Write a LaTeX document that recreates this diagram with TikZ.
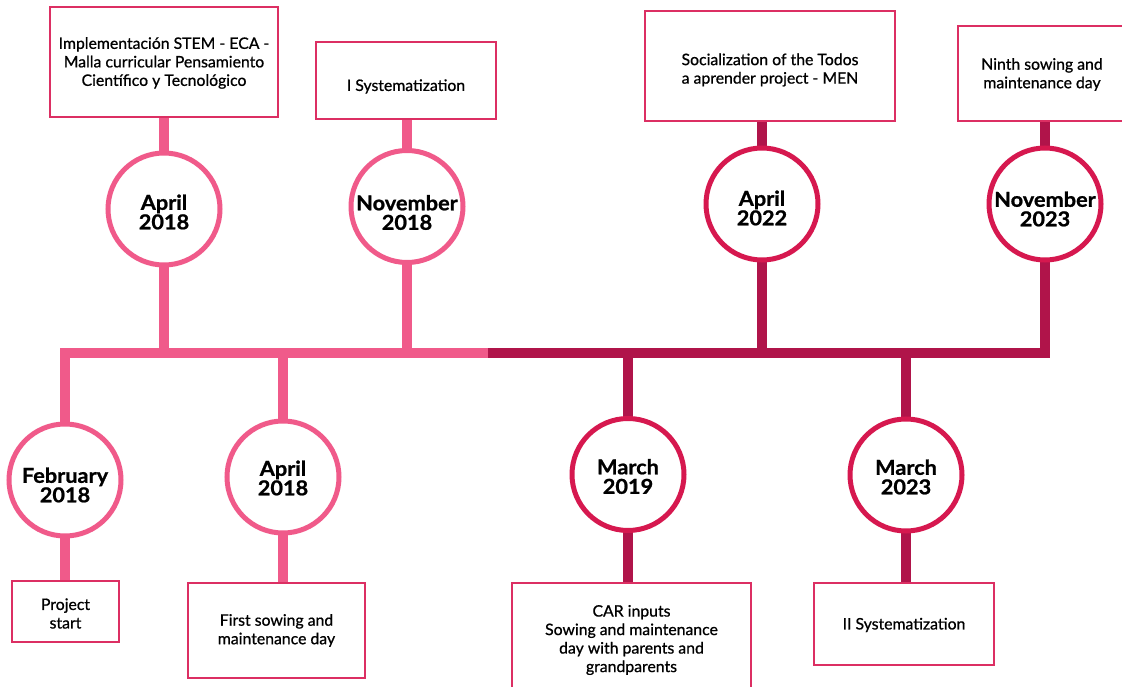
\documentclass[tikz,border=0pt]{standalone}
\usepackage{fontspec}
\setmainfont{Lato}
\newfontfamily\boxfont{Lato}[FakeBold=0.8]
\newfontfamily\datefont{Lato}[FakeBold=1.0,FakeStretch=1.06]
\usetikzlibrary{backgrounds}
\definecolor{pinkc}{HTML}{F05A8A}
\definecolor{darkc}{HTML}{B0144A}
\definecolor{ringc}{HTML}{D6184F}
\definecolor{boxc}{HTML}{DC2F63}
\begin{document}
\begin{tikzpicture}[x=1pt,y=-1pt,
  ev/.style={draw=boxc, line width=1.3pt, fill=white, inner sep=0pt},
  evt/.style={align=center, inner sep=0pt, font=\boxfont\fontsize{15.8}{18.5}\selectfont},
  dt/.style={circle, draw=#1, fill=white, line width=5pt, minimum size=112pt, inner sep=0pt},
  dtt/.style={align=center, inner sep=0pt, font=\datefont\fontsize{20.5}{19.5}\selectfont\bfseries},
  stem/.style={line width=10pt, draw=#1, line join=miter}]
\useasboundingbox (0,0) rectangle (1122,687);
% boxes
\node[ev, minimum width=228pt, minimum height=110pt] (b1) at (164,62) {};
\node[ev, minimum width=180pt, minimum height=77pt] (b2) at (406,80.5) {};
\node[ev, minimum width=250pt, minimum height=110pt] (b3) at (770,66) {};
\node[ev, minimum width=168pt, minimum height=95pt] (b4) at (1042,73.5) {};
\node[ev, minimum width=107pt, minimum height=61pt] (b5) at (65.5,611.5) {};
\node[ev, minimum width=177pt, minimum height=95pt] (b6) at (276.5,630.5) {};
\node[ev, minimum width=239pt, minimum height=112pt] (b7) at (631.5,639) {};
\node[ev, minimum width=180pt, minimum height=82pt] (b8) at (904,624) {};
\node[evt] (s1) at ([yshift=-1pt]b1.center) {Implementación STEM - ECA -\\Malla curricular Pensamiento\\Científico y Tecnológico};
\node[evt] (s2) at ([yshift=-6pt]b2.center) {I Systematization};
\node[evt] (s3) at ([yshift=-4pt]b3.center) {Socialization of the Todos\\a aprender project - MEN};
\node[evt] (s4) at ([yshift=-1pt]b4.center) {Ninth sowing and\\maintenance day};
\node[evt] (s5) at ([yshift=-2pt]b5.center) {Project\\start};
\node[evt] (s6) at ([yshift=0pt]b6.center) {First sowing and\\maintenance day};
\node[evt] (s7) at ([yshift=-1pt]b7.center) {CAR inputs\\Sowing and maintenance\\day with parents and\\grandparents};
\node[evt] (s8) at ([yshift=-1pt]b8.center) {II Systematization};
% circles
\node[dt=pinkc] (c1) at (164,209) {};
\node[dt=pinkc] (c2) at (407,206.5) {};
\node[dt=ringc] (c3) at (762,204) {};
\node[dt=ringc] (c4) at (1045,204) {};
\node[dt=pinkc] (c5) at (65,480) {};
\node[dt=pinkc] (c6) at (283,477) {};
\node[dt=ringc] (c7) at (628,474.5) {};
\node[dt=ringc] (c8) at (906,475) {};
\node[dtt] (t1) at ([yshift=-3pt]c1.center) {April\\2018};
\node[dtt] (t2) at ([yshift=-6pt]c2.center) {November\\2018};
\node[dtt] (t3) at ([yshift=-4pt]c3.center) {April\\2022};
\node[dtt] (t4) at ([yshift=-5pt]c4.center) {November\\2023};
\node[dtt] (t5) at ([yshift=-5pt]c5.center) {February\\2018};
\node[dtt] (t6) at ([yshift=-1pt]c6.center) {April\\2018};
\node[dtt] (t7) at ([yshift=-2pt]c7.center) {March\\2019};
\node[dtt] (t8) at ([yshift=-2pt]c8.center) {March\\2023};
\coordinate (M) at (488,353);
\begin{scope}[on background layer]
  \draw[stem=pinkc] (c5.center) |- (M);
  \draw[stem=darkc] (M) -| (c4.center);
  \draw[stem=pinkc] (c1 |- b1.south) -- (c1 |- M);
  \draw[stem=pinkc] (c2 |- b2.south) -- (c2 |- M);
  \draw[stem=darkc] (c3 |- b3.south) -- (c3 |- M);
  \draw[stem=darkc] (c4 |- b4.south) -- (c4.center);
  \draw[stem=pinkc] (c5.center) -- (c5 |- b5.north);
  \draw[stem=pinkc] (c6 |- M) -- (c6 |- b6.north);
  \draw[stem=darkc] (c7 |- M) -- (c7 |- b7.north);
  \draw[stem=darkc] (c8 |- M) -- (c8 |- b8.north);
\end{scope}
\end{tikzpicture}
\end{document}
